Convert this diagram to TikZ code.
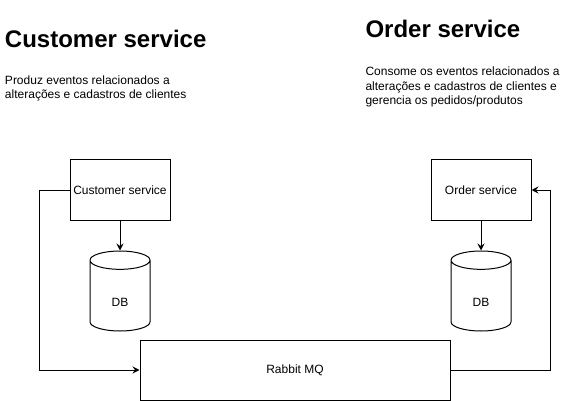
\documentclass[tikz,border=0pt]{standalone}
\usepackage{fontspec}
\setmainfont{Liberation Sans}
\usetikzlibrary{positioning,shapes.geometric,arrows.meta}

\begin{document}
\begin{tikzpicture}[x=1pt, y=-1pt, node distance=30pt, line width=1pt,
    >={Stealth[length=7pt,width=7pt,inset=2.5pt]},
    main/.style = {draw, rectangle, minimum width=100pt, minimum height=60pt, inner sep=0pt, font=\fontsize{12}{14}\selectfont},
    db/.style = {draw, cylinder, shape border rotate=90, aspect=1.1, minimum width=60pt, minimum height=80pt, inner sep=0pt, text height=22pt, font=\fontsize{12}{14}\selectfont},
    title/.style = {anchor=base west, inner sep=0pt, font=\fontsize{24}{28}\selectfont\bfseries},
    desc/.style = {anchor=north west, inner sep=0pt, align=left, font=\fontsize{12}{14.4}\selectfont}]
    \useasboundingbox (0,0) rectangle (581,401);

    %Texts
    \node[title] (t1) at (4.5,48) {Customer service};
    \node[desc] (d1) at (4.5,75) {Produz eventos relacionados a\\alterações e cadastros de clientes};
    \node[title] (t2) at (365,37.5) {Order service};
    \node[desc] (d2) at (365,66.5) {Consome os eventos relacionados a\\alterações e cadastros de clientes e\\gerencia os pedidos/produtos};

    %Services
    \node[main] (1) at (120,190) {Customer service};
    \node[db] (2) [below=30pt of 1] {DB};
    \node[main] (3) [right=260pt of 1] {Order service};
    \node[db] (4) [below=30pt of 3] {DB};
    \node[main, minimum width=310pt] (5) at (295,370) {Rabbit MQ};

    \draw[->] (1) to (2);
    \draw[->] (3) to (4);
    \draw[->] (1.west) -- ++(-30,0) |- (5.west);
    \draw[->] (5.east) -- ++(100,0) |- (3.east);

\end{tikzpicture}
\end{document}
